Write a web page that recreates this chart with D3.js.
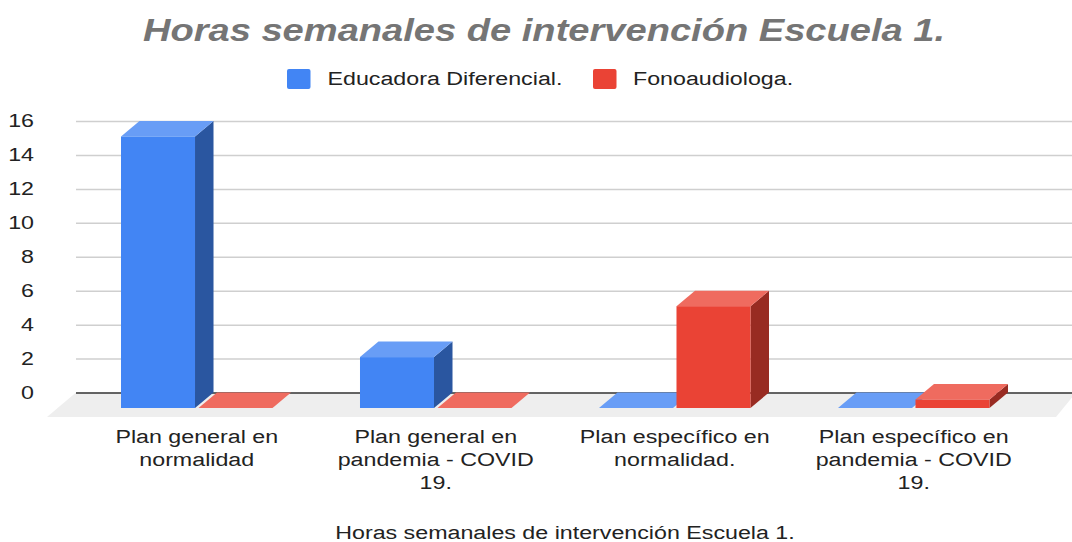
<!DOCTYPE html>
<html>
<head>
<meta charset="utf-8">
<script src="https://d3js.org/d3.v7.min.js"></script>
<style>
    html, body {margin: 0; padding: 0; background: #fff;}
    svg {display: block;}
    text {font-family: "Liberation Sans", Arial, sans-serif;}
</style>
</head>
<body>
<div id="chart"></div>
<script>
const titleText = "Horas semanales de intervención Escuela 1.";
const categories = ["Plan general en normalidad", "Plan general en pandemia - COVID 19.", "Plan específico en normalidad.", "Plan específico en pandemia - COVID 19."];
const categoryLines = [
    ["Plan general en", "normalidad"],
    ["Plan general en", "pandemia - COVID", "19."],
    ["Plan específico en", "normalidad."],
    ["Plan específico en", "pandemia - COVID", "19."]
];
const seriesNames = ["Educadora Diferencial.", "Fonoaudiologa."];
const educadora = [16, 3, 0, 0];
const fono = [0, 0, 6, 0.5];
const yTicks = [0, 2, 4, 6, 8, 10, 12, 14, 16];
const palette = [
    {front: "#4285f4", side: "#2a56a0", top: "#689df6"},
    {front: "#ea4335", side: "#982b22", top: "#ef6b5f"}
];

const width = 1072, height = 542;
const depth = {x: 18.5, y: 15.5};
const stretch = 1.29;   // reference text is wider than the plain font

const svg = d3.select("#chart").append("svg")
    .attr("width", width)
    .attr("height", height);

// back wall scale, front of the bars sits depth.y lower
const y = d3.scaleLinear().domain([0, 16]).range([392.5, 121]);
const x0 = d3.scaleBand().domain(categories).range([121, 989.5]).paddingInner(0.366);
const x1 = d3.scaleBand().domain(seriesNames).range([0, x0.bandwidth()]).paddingInner(0.045);

function widen(sel, k) {
    sel.each(function () {
        d3.select(this)
            .attr("textLength", this.getComputedTextLength() * (k || stretch))
            .attr("lengthAdjust", "spacingAndGlyphs");
    });
}

// floor
svg.append("polygon")
    .attr("points", [[76, y(0)], [1076, y(0)], [1056, y(0) + 24.5], [47, y(0) + 24.5]].join(" "))
    .attr("fill", "#eeeeee");

// grid and labels
const yAxis = svg.append("g")
    .attr("transform", "translate(76,0)")
    .call(d3.axisLeft(y).tickValues(yTicks).tickSize(-1000).tickPadding(42))
    .call(g => g.select(".domain").remove());
yAxis.selectAll(".tick line")
    .attr("stroke", d => d === 0 ? "#333333" : "#cfcfcf")
    .attr("stroke-width", 1.5);
yAxis.selectAll(".tick text")
    .attr("fill", "#222222")
    .style("font-size", "18px")
    .style("font-family", "'Liberation Sans', Arial, sans-serif")
    .call(widen);

// bars
const rows = [];
categories.forEach(function (c, i) {
    rows.push({cat: c, name: seriesNames[0], value: educadora[i], colors: palette[0]});
    rows.push({cat: c, name: seriesNames[1], value: fono[i], colors: palette[1]});
});

const bars = svg.append("g").selectAll("g")
    .data(rows)
    .enter()
    .append("g");

function corners(d) {
    const l = x0(d.cat) + x1(d.name);
    const r = l + x1.bandwidth();
    const b = y(0) + depth.y;
    const t = y(d.value) + depth.y;
    return {l, r, b, t};
}

bars.append("polygon")
    .attr("fill", d => d.colors.side)
    .attr("points", function (d) {
        const c = corners(d);
        return [[c.r, c.t], [c.r + depth.x, c.t - depth.y], [c.r + depth.x, c.b - depth.y], [c.r, c.b]].join(" ");
    });
bars.append("polygon")
    .attr("fill", d => d.colors.top)
    .attr("points", function (d) {
        const c = corners(d);
        return [[c.l, c.t], [c.l + depth.x, c.t - depth.y], [c.r + depth.x, c.t - depth.y], [c.r, c.t]].join(" ");
    });
bars.append("rect")
    .attr("fill", d => d.colors.front)
    .attr("x", d => corners(d).l)
    .attr("y", d => corners(d).t)
    .attr("width", x1.bandwidth())
    .attr("height", d => corners(d).b - corners(d).t);

// category labels
categories.forEach(function (c, i) {
    categoryLines[i].forEach(function (line, j) {
        svg.append("text")
            .attr("x", x0(c) + x0.bandwidth() / 2)
            .attr("y", 443 + j * 23)
            .attr("text-anchor", "middle")
            .attr("fill", "#222222")
            .style("font-size", "18px")
            .text(line)
            .call(widen);
    });
});

// title
svg.append("text")
    .attr("x", 544)
    .attr("y", 41)
    .attr("text-anchor", "middle")
    .attr("fill", "#757575")
    .style("font-size", "32px")
    .style("font-weight", "bold")
    .style("font-style", "italic")
    .text(titleText)
    .call(widen, 1.19);

// legend
const legendX = [287, 593];
const legendTextX = [327.5, 633];
seriesNames.forEach(function (name, i) {
    svg.append("rect")
        .attr("x", legendX[i])
        .attr("y", 69)
        .attr("width", 23.5)
        .attr("height", 20)
        .attr("rx", 2)
        .attr("fill", palette[i].front);
    svg.append("text")
        .attr("x", legendTextX[i])
        .attr("y", 85)
        .attr("fill", "#222222")
        .style("font-size", "18px")
        .text(name)
        .call(widen);
});

// footer, axis title
svg.append("text")
    .attr("x", 565)
    .attr("y", 539)
    .attr("text-anchor", "middle")
    .attr("fill", "#222222")
    .style("font-size", "18px")
    .text(titleText)
    .call(widen);
</script>
</body>
</html>
